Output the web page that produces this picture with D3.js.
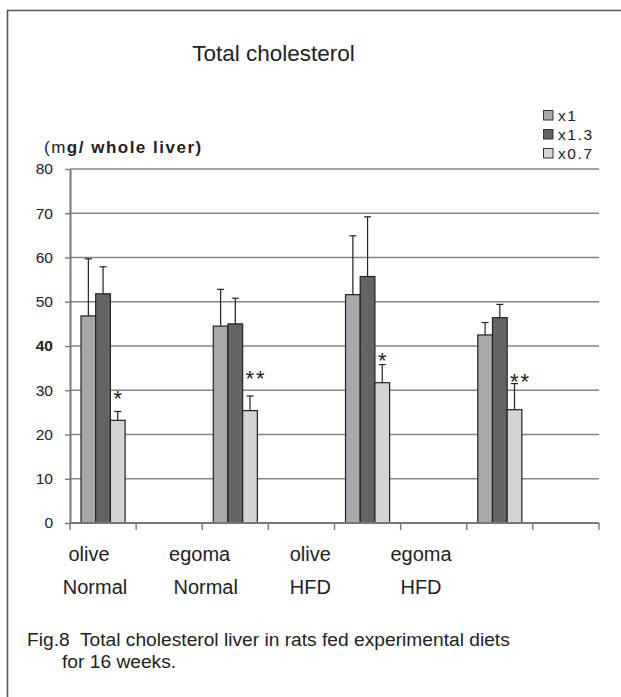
<!DOCTYPE html>
<html>
<head>
<meta charset="utf-8">
<script src="https://cdn.jsdelivr.net/npm/d3@7/dist/d3.min.js"></script>
<style>
  html, body { margin: 0; padding: 0; background: #fff; }
  svg { display: block; }
  text { font-family: "Liberation Sans", Arial, sans-serif; fill: #222; }
</style>
</head>
<body>
<svg id="chart" width="621" height="697"></svg>
<script>
// Groups (oil / diet) shown along the x axis
const oils = ["olive", "egoma", "olive", "egoma"];
const diets = ["Normal", "Normal", "HFD", "HFD"];

// Series: feeding level
const seriesNames = ["x1", "x1.3", "x0.7"];
const seriesColors = ["#a7a8ab", "#646466", "#d3d4d6"];

// Means (mg / whole liver)
const meanX1 = [46.8, 44.5, 51.6, 42.5];
const meanX13 = [51.8, 45.0, 55.7, 46.4];
const meanX07 = [23.2, 25.4, 31.7, 25.6];

// Upper error (SD)
const sdX1 = [12.9, 8.3, 13.3, 2.8];
const sdX13 = [6.1, 5.8, 13.5, 3.0];
const sdX07 = [2.0, 3.3, 4.1, 5.9];

// Significance marks on the x0.7 bars, and the level they sit at
const sigLabels = ["*", "**", "*", "**"];
const sigAt = [29.4, 33.9, 38.0, 33.3];

// Y axis ticks
const yTicks = [0, 10, 20, 30, 40, 50, 60, 70, 80];

const means = [meanX1, meanX13, meanX07];
const sds = [sdX1, sdX13, sdX07];

const svg = d3.select("#chart");

// Outer frame (left and top rules)
svg.append("path")
  .attr("d", "M7.5,697 V10.5 H621")
  .attr("fill", "none")
  .attr("stroke", "#555")
  .attr("stroke-width", 1.6);

const plot = { left: 70, right: 599, top: 169, bottom: 523 };

// Eight slots along the axis: each group is followed by an empty slot
const slots = d3.range(oils.length * 2);
const x = d3.scaleBand().domain(slots).range([plot.left, plot.right]).padding(0);
const groupSlot = i => i * 2;

// Bars inside a slot: 3 bars + 150% gap
const barW = x.bandwidth() / 4.5;
const xInner = d3.scaleBand().domain(seriesNames)
  .range([barW * 0.75, barW * 0.75 + barW * 3]).padding(0);

const y = d3.scaleLinear().domain([0, 80]).range([plot.bottom, plot.top]);

// Gridlines
svg.append("g")
  .selectAll("line")
  .data(yTicks.filter(d => d > 0))
  .join("line")
  .attr("x1", plot.left).attr("x2", plot.right)
  .attr("y1", d => y(d)).attr("y2", d => y(d))
  .attr("stroke", "#858585")
  .attr("stroke-width", 1.5);

// Y axis
const yAxis = svg.append("g")
  .attr("transform", `translate(${plot.left},0)`)
  .call(d3.axisLeft(y).tickValues(yTicks).tickSize(5).tickSizeOuter(0).tickPadding(12));
yAxis.select(".domain").attr("stroke", "#777").attr("stroke-width", 2);
yAxis.selectAll(".tick line").attr("stroke", "#777").attr("stroke-width", 1.4);
yAxis.selectAll(".tick text")
  .attr("font-size", 15.5)
  .attr("font-family", "Liberation Sans, Arial, sans-serif")
  .attr("fill", "#2a2a2a")
  .attr("font-weight", d => d === 40 ? "bold" : "normal");

// Bars
const bars = svg.append("g");
seriesNames.forEach((s, si) => {
  bars.append("g")
    .selectAll("rect")
    .data(means[si])
    .join("rect")
    .attr("x", (d, i) => x(groupSlot(i)) + xInner(s))
    .attr("y", d => y(d))
    .attr("width", xInner.bandwidth())
    .attr("height", d => y(0) - y(d))
    .attr("fill", seriesColors[si])
    .attr("stroke", "#222")
    .attr("stroke-width", 1.2);
});

// Error bars (upper only)
const capW = 7;
seriesNames.forEach((s, si) => {
  const g = svg.append("g").attr("stroke", "#222").attr("stroke-width", 1.2);
  means[si].forEach((m, i) => {
    const cx = x(groupSlot(i)) + xInner(s) + xInner.bandwidth() / 2;
    const top = y(m + sds[si][i]);
    g.append("line").attr("x1", cx).attr("x2", cx).attr("y1", y(m)).attr("y2", top);
    g.append("line").attr("x1", cx - capW / 2).attr("x2", cx + capW / 2).attr("y1", top).attr("y2", top);
  });
});

// Significance marks
svg.append("g")
  .selectAll("text")
  .data(sigLabels)
  .join("text")
  .attr("x", (d, i) => x(groupSlot(i)) + xInner("x0.7") + xInner.bandwidth() / 2 + (d.length > 1 ? 6 : 0))
  .attr("y", (d, i) => y(sigAt[i]) + 13)
  .attr("text-anchor", "middle")
  .attr("font-size", 22)
  .attr("letter-spacing", d => d.length > 1 ? 2 : 0)
  .attr("fill", "#333")
  .text(d => d);

// X axis line and slot ticks
svg.append("line")
  .attr("x1", plot.left).attr("x2", plot.right)
  .attr("y1", y(0)).attr("y2", y(0))
  .attr("stroke", "#777").attr("stroke-width", 2);
svg.append("g")
  .selectAll("line")
  .data(d3.range(slots.length + 1))
  .join("line")
  .attr("x1", d => plot.left + d * x.step())
  .attr("x2", d => plot.left + d * x.step())
  .attr("y1", y(0)).attr("y2", y(0) + 7)
  .attr("stroke", "#777").attr("stroke-width", 1.4);

// Group labels
const lx = d3.scalePoint().domain(d3.range(oils.length)).range([89, 421]);
svg.append("g")
  .selectAll("text")
  .data(oils)
  .join("text")
  .attr("x", (d, i) => lx(i))
  .attr("y", 561)
  .attr("text-anchor", "middle")
  .attr("font-size", 20)
  .text(d => d);
svg.append("g")
  .selectAll("text")
  .data(diets)
  .join("text")
  .attr("x", (d, i) => lx(i) + (i < 2 ? 6 : 0))
  .attr("y", 594)
  .attr("text-anchor", "middle")
  .attr("font-size", 20)
  .text(d => d);

// Title
svg.append("text")
  .attr("x", 273.5).attr("y", 61)
  .attr("text-anchor", "middle")
  .attr("font-size", 22.5)
  .attr("fill", "#111")
  .text("Total cholesterol");

// Unit label
const unit = svg.append("text")
  .attr("x", 44).attr("y", 153)
  .attr("font-size", 17)
  .attr("letter-spacing", 1.5)
  .attr("fill", "#111");
unit.append("tspan").text("(m");
unit.append("tspan").attr("font-weight", "bold").text("g/ whole liver)");

// Legend
const legend = svg.append("g").attr("transform", "translate(543,110)");
seriesNames.forEach((s, si) => {
  const row = legend.append("g").attr("transform", `translate(0,${si * 19})`);
  row.append("rect")
    .attr("x", 0.5).attr("y", 0.5)
    .attr("width", 9.5).attr("height", 9.5)
    .attr("fill", seriesColors[si])
    .attr("stroke", "#333").attr("stroke-width", 1);
  row.append("text")
    .attr("x", 15).attr("y", 10.5)
    .attr("font-size", 15.5)
    .attr("letter-spacing", 1.6)
    .attr("fill", "#333")
    .text(s);
});

// Caption
svg.append("text")
  .attr("x", 27).attr("y", 646)
  .attr("font-size", 19.2)
  .attr("xml:space", "preserve")
  .text("Fig.8  Total cholesterol liver in rats fed experimental diets");
svg.append("text")
  .attr("x", 62).attr("y", 668)
  .attr("font-size", 19.2)
  .text("for 16 weeks.");
</script>
</body>
</html>
